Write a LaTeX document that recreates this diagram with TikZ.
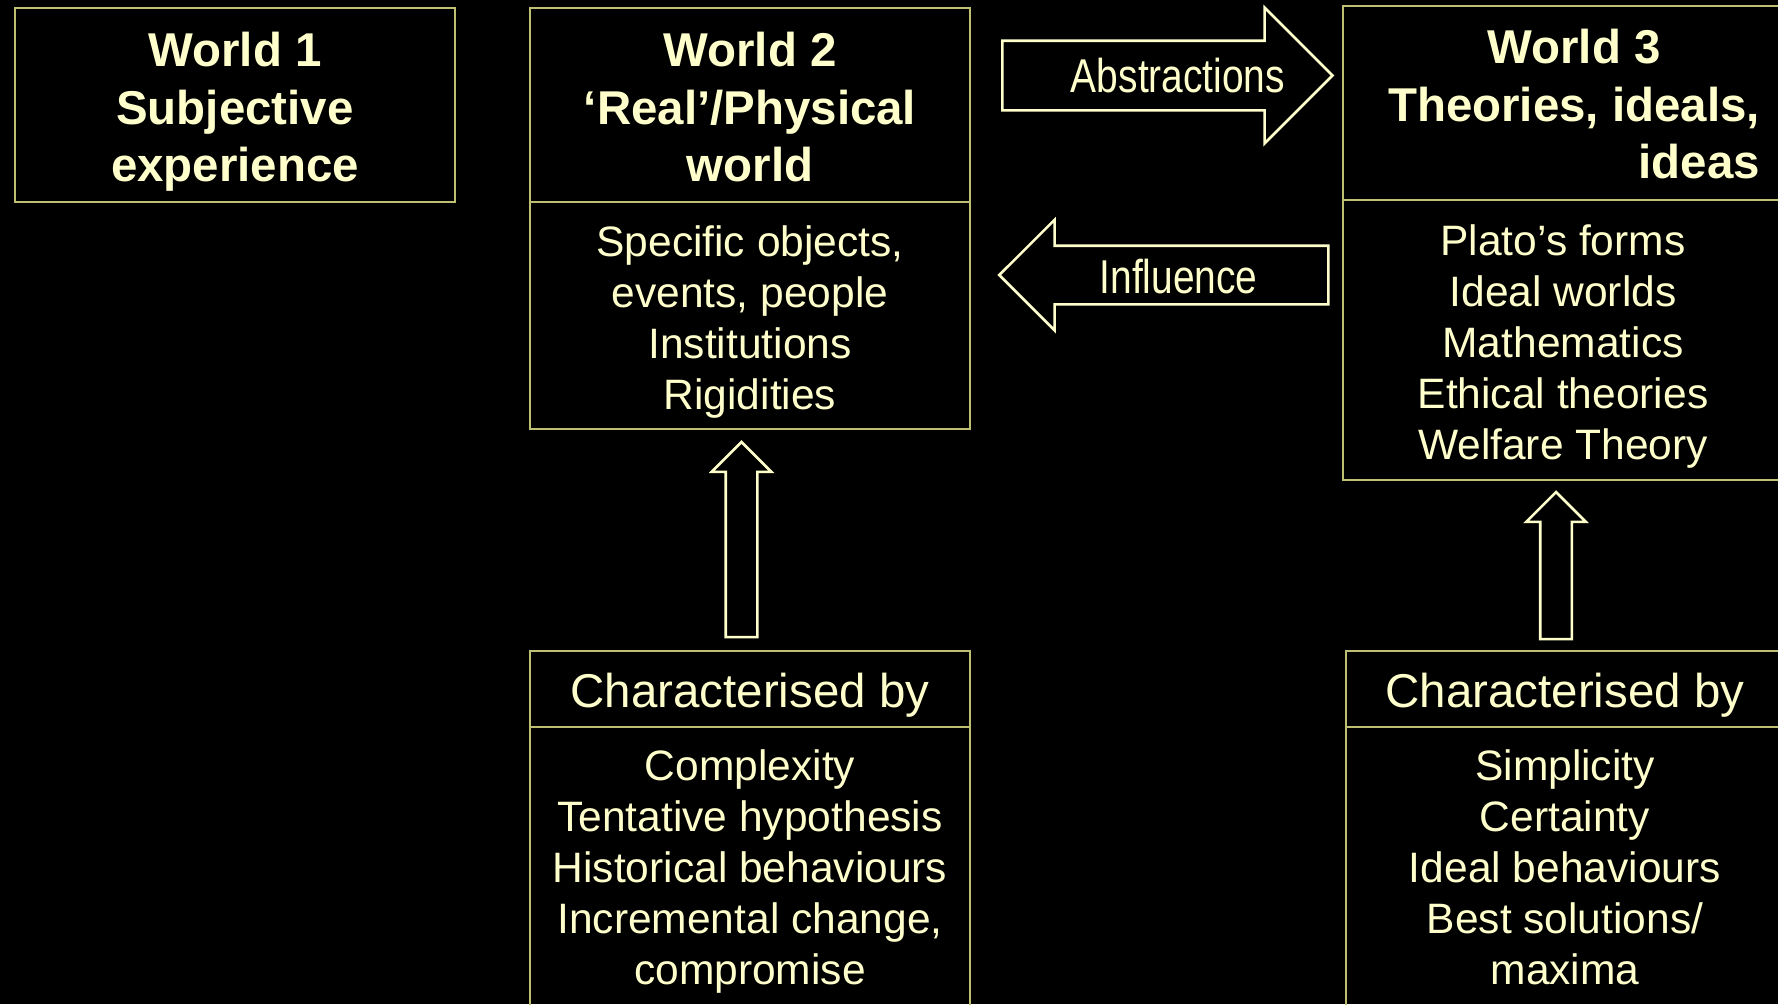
\documentclass[tikz,border=0pt]{standalone}
\usepackage{fontspec}
\setmainfont{Liberation Sans}
\newfontfamily\narrowfont[FakeStretch=0.82]{Liberation Sans}
\usepackage{tikz}
\usetikzlibrary{positioning, shapes.arrows}
\definecolor{wText}{RGB}{255,255,204}
\definecolor{wLine}{RGB}{191,191,115}

\begin{document}
\begin{tikzpicture}[
    wbox/.style      ={rectangle, draw=wLine, line width=0.6pt, text=wText, align=center, inner sep=0pt, outer sep=0pt},
    whead/.style     ={wbox, font=\fontsize{13.5}{16.4}\selectfont\bfseries, text height={0.50cm+(#1-1)*16.4pt},
                       execute at end node={\rule[-0.12cm]{0pt}{0pt}}},
    wtitle/.style    ={wbox, font=\fontsize{13.5}{14.5}\selectfont, text height=0.46cm},
    wbody/.style     ={wbox, font=\fontsize{12.1}{14.5}\selectfont, text height={0.43cm+(#1-1)*14.5pt}},
    blockarrow/.style={single arrow, draw=wText, line width=0.75pt, inner sep=0pt, text=wText, font=\narrowfont\fontsize{13.5}{14.5}\selectfont}
]
\fill[black, use as bounding box] (0,0) rectangle (17.78,-10.04);
% the three worlds
\node[whead=3, minimum width=4.40cm, minimum height=1.94cm] (world1) at (2.35,-1.05) {World 1\\Subjective\\experience};
\node[whead=3, minimum width=4.40cm, minimum height=1.94cm] (world2) at (7.50,-1.05) {World 2\\‘Real’/Physical\\world};
\node[wbody=4, minimum width=4.40cm, minimum height=2.27cm, below=0pt of world2] (world2items) {Specific objects,\\events, people\\Institutions\\Rigidities};
\node[whead=1, text height=, minimum width=4.62cm, minimum height=1.94cm] (world3) at (15.74,-1.03)
 {\begin{tabular}{@{}c@{}}\rule{0pt}{0.535cm}World 3\\Theories, ideals,\\\multicolumn{1}{@{}r@{}}{ideas}\end{tabular}};
\node[wbody=5, minimum width=4.40cm, minimum height=2.80cm, anchor=north west] (world3items) at (world3.south west) {Plato’s forms\\Ideal worlds\\Mathematics\\Ethical theories\\Welfare Theory};
% characteristics
\node[wtitle, minimum width=4.40cm, minimum height=0.76cm] (char2) at (7.50,-6.89) {Characterised by};
\node[wbody=5, minimum width=4.40cm, minimum height=3.00cm, below=0pt of char2] (char2items)
 {Complexity\\Tentative hypothesis\\Historical behaviours\\Incremental change,\\compromise\rule[-0.32cm]{0pt}{0pt}};
\node[wtitle, minimum width=4.38cm, minimum height=0.76cm] (char3) at (15.65,-6.89) {Characterised by};
\node[wbody=5, minimum width=4.38cm, minimum height=3.00cm, below=0pt of char3] (char3items)
 {Simplicity\\Certainty\\Ideal behaviours\\Best solutions/\\maxima\rule[-0.32cm]{0pt}{0pt}};
% block arrows
\node[blockarrow, minimum height=3.30cm, single arrow head extend=0.33cm, text height=0.52cm, text depth=0.15cm,
      label={[text=wText, font=\narrowfont\fontsize{13.5}{14.5}\selectfont, xshift=0.28cm]center:Abstractions}] (abstr) at (11.50,-0.755) {};
\node[blockarrow, shape border rotate=180, minimum height=3.29cm, single arrow head extend=0.26cm, text height=0.46cm, text depth=0.10cm] (influ) at (11.785,-2.75) {Influence};
\node[blockarrow, rotate=90, minimum height=1.95cm, single arrow head extend=0.14cm, text height=0.29cm, text depth=0pt] (up2) at (7.415,-5.475) {};
\node[blockarrow, rotate=90, minimum height=1.47cm, single arrow head extend=0.14cm, text height=0.29cm, text depth=0pt] (up3) at (15.56,-5.735) {};
\end{tikzpicture}
\end{document}
